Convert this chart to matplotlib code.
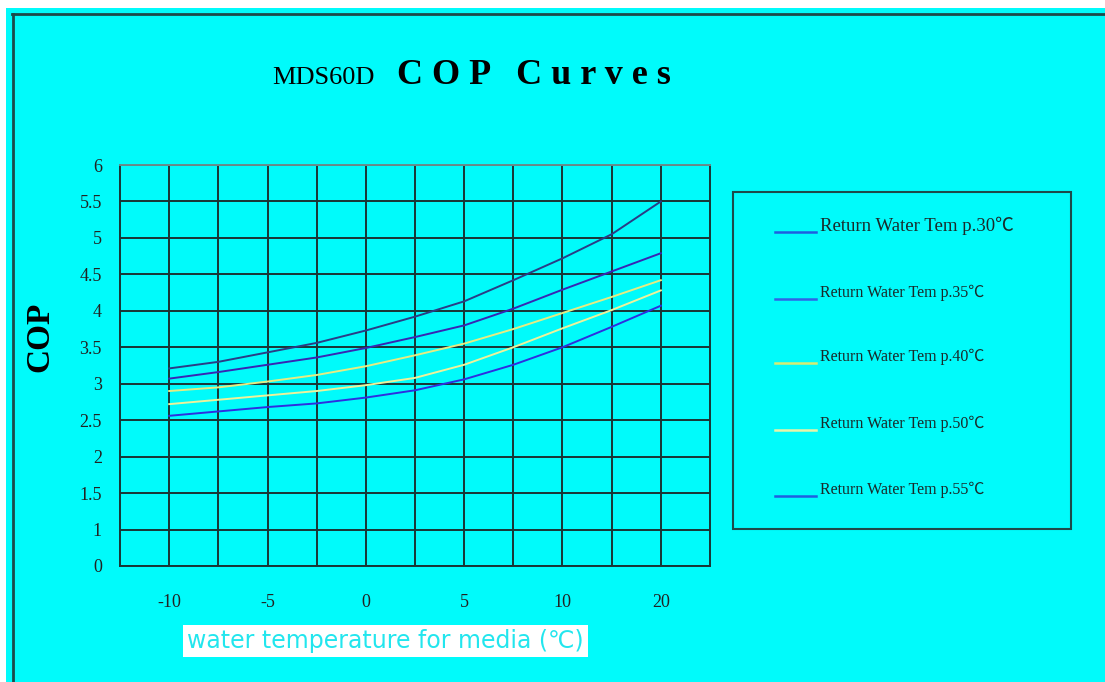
import numpy as np
import matplotlib
matplotlib.use('Agg')
import matplotlib.pyplot as plt
from matplotlib.patches import Rectangle
from matplotlib.lines import Line2D

# media water temperature (C) and COP readings for each return water temperature
temps = [-10, -7.5, -5, -2.5, 0, 2.5, 5, 7.5, 10, 15, 20]
cop_30 = [3.21, 3.30, 3.43, 3.56, 3.73, 3.92, 4.13, 4.42, 4.72, 5.05, 5.50]
cop_35 = [3.07, 3.16, 3.26, 3.36, 3.49, 3.64, 3.80, 4.03, 4.29, 4.54, 4.79]
cop_40 = [2.90, 2.95, 3.03, 3.12, 3.24, 3.39, 3.55, 3.75, 3.97, 4.19, 4.42]
cop_50 = [2.72, 2.78, 2.84, 2.90, 2.98, 3.08, 3.26, 3.50, 3.76, 4.01, 4.28]
cop_55 = [2.56, 2.62, 2.68, 2.73, 2.81, 2.91, 3.06, 3.26, 3.50, 3.78, 4.07]

x_ticks = [-10, -5, 0, 5, 10, 20]
y_ticks = [0, 1, 1.5, 2, 2.5, 3, 3.5, 4, 4.5, 5, 5.5, 6]
y_ticklabels = ['0', '1', '1.5', '2', '2.5', '3', '3.5', '4', '4.5', '5', '5.5', '6']
labels = ['Return Water Tem p.30\u2103', 'Return Water Tem p.35\u2103',
          'Return Water Tem p.40\u2103', 'Return Water Tem p.50\u2103',
          'Return Water Tem p.55\u2103']

series = [cop_30, cop_35, cop_40, cop_50, cop_55]
line_colors = ['#2a3c86', '#3826b4', '#e6ec82', '#eef29a', '#2e2ee0']
legend_colors = ['#1f5ee0', '#2f64e6', '#d8ec70', '#e8f4a8', '#1f5ee0']

bg = '#00fbfb'
grid_c = '#1a3434'

# the x axis is evenly spaced per tick label, not linear in temperature
xs_t = [-15, -10, -5, 0, 5, 10, 20, 30]
xs_p = [-1, 0, 1, 2, 3, 4, 5, 6]
def xfwd(v):
    return np.interp(v, xs_t, xs_p)
def xinv(v):
    return np.interp(v, xs_p, xs_t)

# y axis: 0 squeezed into half a step below 1
ys_v = [-1, 0, 1, 7]
ys_p = [0, 0.5, 1, 7]
def yfwd(v):
    return np.interp(v, ys_v, ys_p)
def yinv(v):
    return np.interp(v, ys_p, ys_v)

fig = plt.figure(figsize=(11.05, 6.82), dpi=100)
fig.patch.set_facecolor(bg)

W, H = 1105, 682
# white strips and dark frame line of the original screenshot
fig.add_artist(Rectangle((0, 1 - 8 / H), 1, 8 / H, transform=fig.transFigure, color='white', lw=0))
fig.add_artist(Rectangle((0, 0), 6 / W, 1, transform=fig.transFigure, color='white', lw=0))
fig.add_artist(Line2D([12 / W, 1], [1 - 13.5 / H, 1 - 13.5 / H], transform=fig.transFigure, color='#1d4a4a', lw=2))
fig.add_artist(Line2D([12.5 / W, 12.5 / W], [0, 1 - 13.5 / H], transform=fig.transFigure, color='#1d4a4a', lw=2))

ax = fig.add_axes([120 / W, 1 - 566 / H, 590 / W, 401 / H])
ax.set_facecolor(bg)
ax.set_xscale('function', functions=(xfwd, xinv))
ax.set_yscale('function', functions=(yfwd, yinv))
ax.set_xlim(-12.5, 25)
ax.set_ylim(0, 6)

ax.set_xticks(x_ticks)
ax.set_xticklabels([str(t) for t in x_ticks])
ax.set_xticks([-7.5, -2.5, 2.5, 7.5, 15], minor=True)
ax.set_yticks(y_ticks)
ax.set_yticklabels(y_ticklabels)
ax.tick_params(which='both', length=0)
ax.tick_params(axis='x', pad=20)
ax.tick_params(axis='y', pad=13)
for lab in ax.get_xticklabels() + ax.get_yticklabels():
    lab.set_fontfamily('Liberation Serif')
    lab.set_fontsize(13)
    lab.set_color('#222222')
ax.grid(True, which='both', color=grid_c, lw=1.4)
ax.set_axisbelow(True)
for s in ax.spines.values():
    s.set_color(grid_c)
    s.set_linewidth(1.4)
ax.spines['top'].set_color('#6a8a8a')

for vals, c in zip(series, line_colors):
    ax.plot(temps, vals, color=c, lw=1.4)

# title
fig.text(272 / W, 1 - 78 / H, 'MDS60D', fontfamily='Liberation Serif', fontsize=19,
         ha='left', va='center')
fig.text(397 / W, 1 - 76 / H, 'C O P   C u r v e s', fontfamily='Liberation Serif',
         fontsize=26, fontweight='bold', ha='left', va='center')

# y label
fig.text(40 / W, 1 - 337 / H, 'COP', fontfamily='Liberation Serif', fontsize=24,
         fontweight='bold', rotation=90, ha='center', va='center')

# x label on white box
fig.text(187 / W, 1 - 641 / H, 'water temperature for media (\u2103)', fontfamily='DejaVu Sans',
         fontsize=17, color='#22e6ee', ha='left', va='center',
         bbox=dict(facecolor='white', edgecolor='none', pad=3))

# legend box
fig.add_artist(Rectangle((733 / W, 1 - 529 / H), 338 / W, 337 / H, transform=fig.transFigure,
                         facecolor='none', edgecolor='#1d4a4a', lw=1.5))
leg_y = [226, 293, 357, 424, 490]
for yy, lab, c in zip(leg_y, labels, legend_colors):
    fig.add_artist(Line2D([775 / W, 816 / W], [1 - (yy + 6) / H, 1 - (yy + 6) / H],
                          transform=fig.transFigure, color=c, lw=1.8))
    fig.text(820 / W, 1 - yy / H, lab, fontfamily=['Liberation Serif', 'Noto Sans CJK SC'],
             fontsize=13.5 if yy == 226 else 11.5, color='#1a2a2a', ha='left', va='center')

fig.savefig('out.png', dpi=100, facecolor=fig.get_facecolor())
